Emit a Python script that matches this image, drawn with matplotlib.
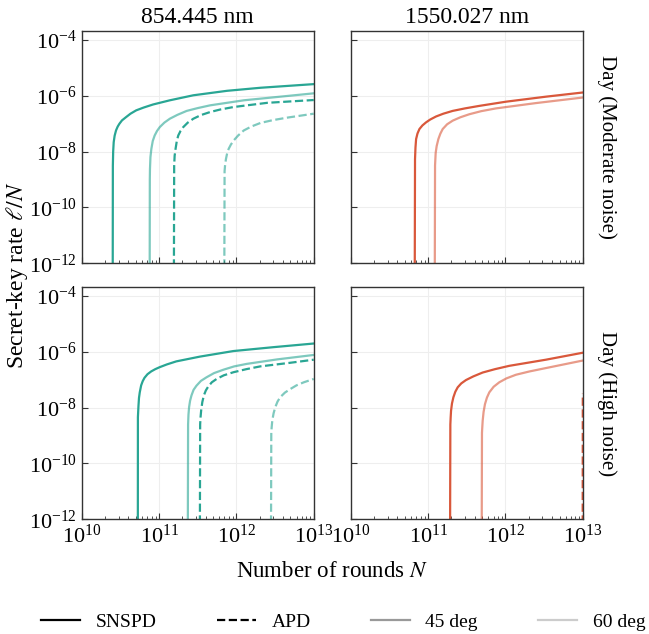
import matplotlib
matplotlib.use("Agg")
import matplotlib.pyplot as plt
import numpy as np
from matplotlib.lines import Line2D
from matplotlib.ticker import LogLocator, NullLocator, FixedLocator

plt.rcParams['font.family'] = ['Liberation Serif', 'DejaVu Serif']
plt.rcParams['mathtext.fontset'] = 'stix'

# values, as log10(N) and log10(rate)
# top left: 854.445 nm, moderate noise
tl_snspd45_logN = [10.400, 10.402, 10.406, 10.413, 10.425, 10.443, 10.465, 10.487, 10.52, 10.574, 10.63, 10.704, 10.80, 10.922, 11.139, 11.443, 11.878, 12.313, 13.0]
tl_snspd45_logR = [-13, -8.5, -8.0, -7.66, -7.43, -7.24, -7.1, -7.0, -6.88, -6.76, -6.64, -6.52, -6.42, -6.31, -6.16, -5.98, -5.82, -5.71, -5.58]
tl_snspd60_logN = [10.878, 10.880, 10.882, 10.888, 10.900, 10.918, 10.943, 10.973, 11.009, 11.068, 11.139, 11.238, 11.357, 11.498, 11.661, 12.096, 12.53, 13.0]
tl_snspd60_logR = [-13, -9.0, -8.62, -8.2, -7.9, -7.62, -7.42, -7.26, -7.12, -6.96, -6.82, -6.68, -6.54, -6.44, -6.34, -6.16, -6.04, -5.91]
tl_apd45_logN = [11.191, 11.195, 11.201, 11.213, 11.229, 11.248, 11.279, 11.313, 11.371, 11.443, 11.541, 11.661, 11.791, 11.965, 12.40, 13.0]
tl_apd45_logR = [-13, -8.5, -8.15, -7.9, -7.62, -7.42, -7.25, -7.12, -6.96, -6.82, -6.69, -6.58, -6.49, -6.40, -6.25, -6.15]
tl_apd60_logN = [11.843, 11.847, 11.853, 11.865, 11.881, 11.90, 11.928, 11.965, 12.023, 12.096, 12.193, 12.313, 12.473, 12.661, 13.0]
tl_apd60_logR = [-13, -8.7, -8.5, -8.26, -8.05, -7.9, -7.75, -7.6, -7.42, -7.24, -7.1, -6.97, -6.87, -6.78, -6.64]

# top right: 1550.027 nm, moderate noise
tr_snspd45_logN = [10.826, 10.830, 10.836, 10.844, 10.862, 10.887, 10.926, 10.973, 11.026, 11.102, 11.196, 11.317, 11.476, 11.662, 12.006, 12.523, 13.0]
tr_snspd45_logR = [-13, -8.27, -7.85, -7.55, -7.35, -7.19, -7.06, -6.95, -6.85, -6.74, -6.64, -6.54, -6.45, -6.36, -6.21, -6.03, -5.88]
tr_snspd60_logN = [11.085, 11.089, 11.097, 11.110, 11.132, 11.157, 11.188, 11.245, 11.317, 11.415, 11.532, 11.685, 11.877, 12.393, 13.0]
tr_snspd60_logR = [-13, -8.5, -8.05, -7.8, -7.55, -7.36, -7.19, -7.02, -6.89, -6.77, -6.66, -6.55, -6.45, -6.26, -6.06]

# bottom left: 854.445 nm, high noise
bl_snspd45_logN = [10.725, 10.726, 10.733, 10.740, 10.750, 10.768, 10.788, 10.811, 10.85, 10.898, 10.95, 11.006, 11.10, 11.223, 11.527, 11.961, 12.482, 13.0]
bl_snspd45_logR = [-13, -8.34, -7.95, -7.65, -7.45, -7.2, -7.05, -6.93, -6.8, -6.7, -6.62, -6.55, -6.45, -6.34, -6.17, -5.97, -5.83, -5.70]
bl_snspd60_logN = [11.371, 11.375, 11.380, 11.388, 11.401, 11.419, 11.446, 11.484, 11.541, 11.614, 11.711, 11.831, 11.971, 12.134, 12.525, 13.0]
bl_snspd60_logR = [-13, -8.6, -8.25, -7.98, -7.75, -7.56, -7.36, -7.21, -7.04, -6.91, -6.76, -6.64, -6.52, -6.43, -6.27, -6.11]
bl_apd45_logN = [11.527, 11.531, 11.536, 11.544, 11.559, 11.579, 11.605, 11.636, 11.682, 11.744, 11.837, 11.961, 12.127, 12.308, 12.698, 13.0]
bl_apd45_logR = [-13, -8.6, -8.35, -8.1, -7.8, -7.56, -7.38, -7.24, -7.09, -6.97, -6.84, -6.73, -6.62, -6.52, -6.39, -6.28]
bl_apd60_logN = [12.447, 12.451, 12.456, 12.464, 12.481, 12.503, 12.532, 12.568, 12.627, 12.698, 12.777, 12.872, 13.0]
bl_apd60_logR = [-13, -8.9, -8.7, -8.46, -8.2, -7.98, -7.78, -7.62, -7.46, -7.33, -7.2, -7.09, -6.97]

# bottom right: 1550.027 nm, high noise
br_snspd45_logN = [11.283, 11.287, 11.291, 11.296, 11.308, 11.326, 11.351, 11.382, 11.428, 11.489, 11.583, 11.705, 11.863, 12.049, 12.523, 13.0]
br_snspd45_logR = [-13, -8.6, -8.35, -8.11, -7.85, -7.63, -7.43, -7.27, -7.13, -7.01, -6.88, -6.74, -6.62, -6.50, -6.28, -6.03]
br_snspd60_logN = [11.692, 11.696, 11.700, 11.705, 11.717, 11.735, 11.760, 11.791, 11.847, 11.920, 12.012, 12.135, 12.312, 12.523, 13.0]
br_snspd60_logR = [-13, -8.9, -8.7, -8.47, -8.15, -7.87, -7.64, -7.45, -7.25, -7.09, -6.95, -6.82, -6.70, -6.58, -6.31]
br_apd45_logN = [12.998, 13.0]
br_apd45_logR = [-13, -7.5]

wavelengths = ['854.445 nm', '1550.027 nm']
conditions = ['Day (Moderate noise)', 'Day (High noise)']

teal = '#29a694'
red = '#d9583b'
light = 0.6


def curve(ax, logN, logR, color, ls='-', alpha=1.0):
    ax.plot(10.0**np.array(logN), 10.0**np.array(logR), color=color, ls=ls,
            alpha=alpha, lw=1.6)


fig, axes = plt.subplots(2, 2, figsize=(6.49, 6.34), dpi=100, sharex=True, sharey=True)
plt.subplots_adjust(left=0.126, right=0.898, top=0.951, bottom=0.181, wspace=0.16, hspace=0.103)

ax = axes[0, 0]
curve(ax, tl_snspd45_logN, tl_snspd45_logR, teal)
curve(ax, tl_snspd60_logN, tl_snspd60_logR, teal, alpha=light)
curve(ax, tl_apd45_logN, tl_apd45_logR, teal, ls='--')
curve(ax, tl_apd60_logN, tl_apd60_logR, teal, ls='--', alpha=light)

ax = axes[0, 1]
curve(ax, tr_snspd45_logN, tr_snspd45_logR, red)
curve(ax, tr_snspd60_logN, tr_snspd60_logR, red, alpha=light)

ax = axes[1, 0]
curve(ax, bl_snspd45_logN, bl_snspd45_logR, teal)
curve(ax, bl_snspd60_logN, bl_snspd60_logR, teal, alpha=light)
curve(ax, bl_apd45_logN, bl_apd45_logR, teal, ls='--')
curve(ax, bl_apd60_logN, bl_apd60_logR, teal, ls='--', alpha=light)

ax = axes[1, 1]
curve(ax, br_snspd45_logN, br_snspd45_logR, red)
curve(ax, br_snspd60_logN, br_snspd60_logR, red, alpha=light)
curve(ax, br_apd45_logN, br_apd45_logR, red, ls='--')

for i in range(2):
    for j in range(2):
        ax = axes[i, j]
        ax.set_xscale('log')
        ax.set_yscale('log')
        ax.set_xlim(1e10, 1e13)
        ax.set_ylim(1e-12, 2.1e-4)
        ax.xaxis.set_major_locator(LogLocator(base=10, numticks=10))
        ax.xaxis.set_minor_locator(LogLocator(base=10, subs=np.arange(2, 10), numticks=20))
        ax.yaxis.set_major_locator(FixedLocator([1e-12, 1e-10, 1e-8, 1e-6, 1e-4]))
        ax.yaxis.set_minor_locator(NullLocator())
        ax.tick_params(which='both', direction='in', labelsize=16, color='#333333')
        ax.tick_params(which='major', length=4)
        ax.tick_params(which='minor', length=2.5)
        ax.grid(True, which='major', color='#eeeeee', lw=0.8)
        ax.set_axisbelow(True)
        for s in ax.spines.values():
            s.set_color('#333333')
            s.set_linewidth(1.0)
    axes[0, i].set_title(wavelengths[i], fontsize=17, pad=6)
    axes[i, 1].text(1.06, 0.5, conditions[i], transform=axes[i, 1].transAxes,
                    rotation=270, va='center', ha='left', fontsize=15)

fig.text(0.026, 0.566, r'Secret-key rate $\ell/N$', rotation=90, va='center', ha='center', fontsize=17)
fig.text(0.512, 0.099, r'Number of rounds $N$', va='center', ha='center', fontsize=16.5)

handles = [Line2D([], [], color='black', lw=1.6),
           Line2D([], [], color='black', lw=1.6, ls='--'),
           Line2D([], [], color='#999999', lw=1.6),
           Line2D([], [], color='#cccccc', lw=1.6)]
fig.legend(handles, ['SNSPD', 'APD', '45 deg', '60 deg'], loc='center',
           bbox_to_anchor=(0.529, 0.019), ncol=4, frameon=False, fontsize=14,
           handlelength=2.0, handletextpad=0.8, columnspacing=3.1)

plt.savefig('out.png', dpi=100)
plt.close()
